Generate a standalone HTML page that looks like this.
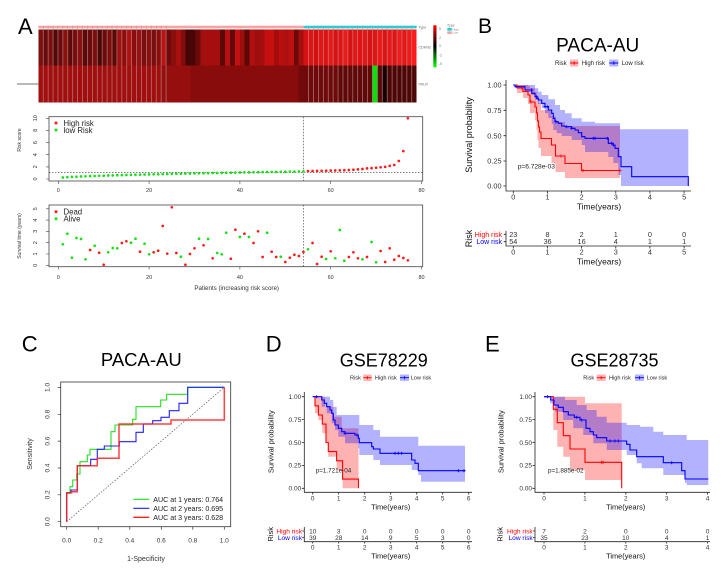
<!DOCTYPE html>
<html><head><meta charset="utf-8"><style>
html,body{margin:0;padding:0;background:#fff;}
svg{display:block;}
text{font-family:"Liberation Sans",sans-serif;}
</style></head><body>
<svg width="722" height="573" viewBox="0 0 722 573" xmlns="http://www.w3.org/2000/svg">
<defs>
<marker id="mr" markerWidth="4" markerHeight="4" refX="2" refY="2" markerUnits="userSpaceOnUse"><circle cx="2" cy="2" r="1.35" fill="#ff1a1a"/></marker>
<marker id="mg" markerWidth="4" markerHeight="4" refX="2" refY="2" markerUnits="userSpaceOnUse"><circle cx="2" cy="2" r="1.35" fill="#16e016"/></marker>
<marker id="pr" markerWidth="4" markerHeight="4" refX="2" refY="2" markerUnits="userSpaceOnUse"><path d="M0.4,2H3.6M2,0.4V3.6" stroke="#ff0000" stroke-width="0.8"/></marker>
<marker id="pb" markerWidth="4" markerHeight="4" refX="2" refY="2" markerUnits="userSpaceOnUse"><path d="M0.4,2H3.6M2,0.4V3.6" stroke="#0000ff" stroke-width="0.8"/></marker>
<linearGradient id="cb" x1="0" y1="0" x2="0" y2="1"><stop offset="0" stop-color="#ff0000"/><stop offset="0.5" stop-color="#000000"/><stop offset="1" stop-color="#00ff00"/></linearGradient>
</defs>

<!-- ================= PANEL A ================= -->
<text x="18" y="34" font-size="22">A</text>
<!-- top annotation bar -->
<rect x="38.3" y="25.7" width="265.4" height="2.6" fill="#f7a3a3"/>
<rect x="303.7" y="25.7" width="113" height="2.6" fill="#1fcfdc"/>
<!-- row 1 -->
<g shape-rendering="crispEdges">
<rect x="38.3" y="29.7" width="5" height="36" fill="#7d0e0e"/>
<rect x="43.21" y="29.7" width="5" height="36" fill="#6a0a0a"/>
<rect x="48.13" y="29.7" width="5" height="36" fill="#7d0e0e"/>
<rect x="53.04" y="29.7" width="5" height="36" fill="#550808"/>
<rect x="57.96" y="29.7" width="5" height="36" fill="#6a0a0a"/>
<rect x="62.87" y="29.7" width="5" height="36" fill="#8a1010"/>
<rect x="67.78" y="29.7" width="5" height="36" fill="#5e0909"/>
<rect x="72.70" y="29.7" width="5" height="36" fill="#7a0c0c"/>
<rect x="77.61" y="29.7" width="5" height="36" fill="#8a0f0f"/>
<rect x="82.53" y="29.7" width="5" height="36" fill="#5a0808"/>
<rect x="87.44" y="29.7" width="5" height="36" fill="#6a0a0a"/>
<rect x="92.35" y="29.7" width="5" height="36" fill="#7d0e0e"/>
<rect x="97.27" y="29.7" width="5" height="36" fill="#4e0707"/>
<rect x="102.18" y="29.7" width="5" height="36" fill="#6a0a0a"/>
<rect x="107.10" y="29.7" width="5" height="36" fill="#7d0e0e"/>
<rect x="112.01" y="29.7" width="5" height="36" fill="#5a0808"/>
<rect x="116.92" y="29.7" width="5" height="36" fill="#a01010"/>
<rect x="121.84" y="29.7" width="5" height="36" fill="#8e0e0e"/>
<rect x="126.75" y="29.7" width="5" height="36" fill="#b01212"/>
<rect x="131.67" y="29.7" width="5" height="36" fill="#8a0e0e"/>
<rect x="136.58" y="29.7" width="5" height="36" fill="#9a0f0f"/>
<rect x="141.49" y="29.7" width="5" height="36" fill="#7d0e0e"/>
<rect x="146.41" y="29.7" width="5" height="36" fill="#8a0f0f"/>
<rect x="151.32" y="29.7" width="5" height="36" fill="#7a0d0d"/>
<rect x="156.24" y="29.7" width="5" height="36" fill="#8a0e0e"/>
<rect x="161.15" y="29.7" width="5" height="36" fill="#bb1212"/>
<rect x="166.06" y="29.7" width="5" height="36" fill="#700b0b"/>
<rect x="170.98" y="29.7" width="5" height="36" fill="#8a0e0e"/>
<rect x="175.89" y="29.7" width="5" height="36" fill="#a81010"/>
<rect x="180.81" y="29.7" width="5" height="36" fill="#800d0d"/>
<rect x="185.72" y="29.7" width="5" height="36" fill="#450505"/>
<rect x="190.63" y="29.7" width="5" height="36" fill="#4a0606"/>
<rect x="195.55" y="29.7" width="5" height="36" fill="#6a0a0a"/>
<rect x="200.46" y="29.7" width="19.8" height="36" fill="#a50e0e"/>
<rect x="220.12" y="29.7" width="5" height="36" fill="#5a0808"/>
<rect x="225.03" y="29.7" width="5" height="36" fill="#b81010"/>
<rect x="229.95" y="29.7" width="5" height="36" fill="#620909"/>
<rect x="234.86" y="29.7" width="5" height="36" fill="#c41010"/>
<rect x="239.77" y="29.7" width="5" height="36" fill="#9a0e0e"/>
<rect x="244.69" y="29.7" width="5" height="36" fill="#5a0808"/>
<rect x="249.60" y="29.7" width="5" height="36" fill="#b01010"/>
<rect x="254.52" y="29.7" width="5" height="36" fill="#a00d0d"/>
<rect x="259.43" y="29.7" width="5" height="36" fill="#a50e0e"/>
<rect x="264.34" y="29.7" width="5" height="36" fill="#c41010"/>
<rect x="269.26" y="29.7" width="5" height="36" fill="#c81010"/>
<rect x="274.17" y="29.7" width="5" height="36" fill="#a50d0d"/>
<rect x="279.09" y="29.7" width="5" height="36" fill="#b80f0f"/>
<rect x="284.00" y="29.7" width="5" height="36" fill="#b00f0f"/>
<rect x="288.91" y="29.7" width="5" height="36" fill="#bd1010"/>
<rect x="293.83" y="29.7" width="5" height="36" fill="#6a0a0a"/>
<rect x="298.74" y="29.7" width="5" height="36" fill="#a50f0f"/>
<rect x="303.66" y="29.7" width="5" height="36" fill="#d81212"/>
<rect x="308.57" y="29.7" width="5" height="36" fill="#e01414"/>
<rect x="313.48" y="29.7" width="5" height="36" fill="#d41111"/>
<rect x="318.40" y="29.7" width="5" height="36" fill="#e31515"/>
<rect x="323.31" y="29.7" width="5" height="36" fill="#dc1313"/>
<rect x="328.23" y="29.7" width="5" height="36" fill="#e81818"/>
<rect x="333.14" y="29.7" width="5" height="36" fill="#d61212"/>
<rect x="338.05" y="29.7" width="5" height="36" fill="#e01414"/>
<rect x="342.97" y="29.7" width="5" height="36" fill="#ea1a1a"/>
<rect x="347.88" y="29.7" width="5" height="36" fill="#d81212"/>
<rect x="352.80" y="29.7" width="5" height="36" fill="#e41616"/>
<rect x="357.71" y="29.7" width="5" height="36" fill="#de1414"/>
<rect x="362.62" y="29.7" width="5" height="36" fill="#e61717"/>
<rect x="367.54" y="29.7" width="5" height="36" fill="#d91313"/>
<rect x="372.45" y="29.7" width="5" height="36" fill="#e11515"/>
<rect x="377.37" y="29.7" width="5" height="36" fill="#eb1a1a"/>
<rect x="382.28" y="29.7" width="5" height="36" fill="#dc1313"/>
<rect x="387.19" y="29.7" width="5" height="36" fill="#e61818"/>
<rect x="392.11" y="29.7" width="5" height="36" fill="#e01414"/>
<rect x="397.02" y="29.7" width="5" height="36" fill="#ee1c1c"/>
<rect x="401.94" y="29.7" width="5" height="36" fill="#e41616"/>
<rect x="406.85" y="29.7" width="5" height="36" fill="#f01c1c"/>
<rect x="411.76" y="29.7" width="4.92" height="36" fill="#ff1a1a"/>
<!-- row 2 -->
<rect x="38.3" y="65.7" width="122.9" height="36.6" fill="#a30f0f"/>
<rect x="161.15" y="65.7" width="29.5" height="36.6" fill="#970e0e"/>
<rect x="190.63" y="65.7" width="108.2" height="36.6" fill="#880c0c"/>
<rect x="298.74" y="65.7" width="39.4" height="36.6" fill="#700a0a"/>
<rect x="338.05" y="65.7" width="34.5" height="36.6" fill="#610909"/>
<rect x="372.45" y="65.7" width="4.95" height="36.6" fill="#00e600"/>
<rect x="377.37" y="65.7" width="4.95" height="36.6" fill="#5a0808"/>
<rect x="382.28" y="65.7" width="4.95" height="36.6" fill="#160202"/>
<rect x="387.19" y="65.7" width="29.5" height="36.6" fill="#4d0707"/>
</g>
<!-- cell separators -->
<path d="M43.21,25.7V102.3M48.13,25.7V102.3M53.04,25.7V102.3M57.96,25.7V102.3M62.87,25.7V102.3M67.78,25.7V102.3M72.70,25.7V102.3M77.61,25.7V102.3M82.53,25.7V102.3M87.44,25.7V102.3M92.35,25.7V102.3M97.27,25.7V102.3M102.18,25.7V102.3M107.10,25.7V102.3M112.01,25.7V102.3M116.92,25.7V102.3M121.84,25.7V102.3M126.75,25.7V102.3M131.67,25.7V102.3M136.58,25.7V102.3M141.49,25.7V102.3M146.41,25.7V102.3M151.32,25.7V102.3M156.24,25.7V102.3M161.15,25.7V102.3M166.06,25.7V102.3M308.57,25.7V102.3M313.48,25.7V102.3M318.40,25.7V102.3M323.31,25.7V102.3M328.23,25.7V102.3M333.14,25.7V102.3M338.05,25.7V102.3M342.97,25.7V102.3M347.88,25.7V102.3M352.80,25.7V102.3M357.71,25.7V102.3M362.62,25.7V102.3M367.54,25.7V102.3M372.45,25.7V102.3M377.37,25.7V102.3M382.28,25.7V102.3M387.19,25.7V102.3M392.11,25.7V102.3M397.02,25.7V102.3M401.94,25.7V102.3M406.85,25.7V102.3M411.76,25.7V102.3" stroke="#b89a9a" stroke-width="0.7" fill="none" opacity="0.8"/>
<line x1="17" y1="84" x2="38.3" y2="84" stroke="#444" stroke-width="0.7"/>
<text x="418.5" y="28.5" font-size="3.6" fill="#666">Type</text>
<text x="418.5" y="48.5" font-size="3.6" fill="#666">CDKN3</text>
<text x="418.5" y="85.5" font-size="3.6" fill="#666">PKLR</text>
<rect x="433.3" y="25.3" width="3.2" height="42" fill="url(#cb)"/>
<text x="439" y="30" font-size="3.5" fill="#777">5</text>
<text x="439" y="39" font-size="3.5" fill="#777">2</text>
<text x="439" y="47" font-size="3.5" fill="#777">0</text>
<text x="439" y="56.5" font-size="3.5" fill="#777">-2</text>
<text x="439" y="65" font-size="3.5" fill="#777">-5</text>
<text x="447" y="26.5" font-size="3.5" fill="#777">Type</text>
<rect x="447.3" y="28" width="4.4" height="2.7" fill="#1fcfdc"/>
<rect x="447.3" y="31.3" width="4.4" height="2.7" fill="#f7a3a3"/>
<text x="452.5" y="30.3" font-size="3" fill="#888">High</text>
<text x="452.5" y="33.6" font-size="3" fill="#888">Low</text>

<!-- risk score plot -->
<rect x="49" y="116.7" width="373.7" height="64.3" fill="none" stroke="#444" stroke-width="0.8"/>
<line x1="49" y1="172.3" x2="422.7" y2="172.3" stroke="#333" stroke-width="0.6" stroke-dasharray="1.5,1.5"/>
<line x1="303.3" y1="116.7" x2="303.3" y2="181" stroke="#333" stroke-width="0.6" stroke-dasharray="1.5,1.5"/>
<path d="M58.3,181V184M149.1,181V184M239.9,181V184M330.7,181V184M421.5,181V184M46,179H49M46,166.9H49M46,154.7H49M46,142.6H49M46,130.4H49M46,118.3H49" stroke="#444" stroke-width="0.6"/>
<g font-size="5.5" fill="#333" text-anchor="middle">
<text x="58.3" y="192">0</text><text x="149.1" y="192">20</text><text x="239.9" y="192">40</text><text x="330.7" y="192">60</text><text x="421.5" y="192">80</text>
<text transform="rotate(-90 37 179)" x="37" y="179">0</text>
<text transform="rotate(-90 37 166.9)" x="37" y="166.9">2</text>
<text transform="rotate(-90 37 154.7)" x="37" y="154.7">4</text>
<text transform="rotate(-90 37 142.6)" x="37" y="142.6">6</text>
<text transform="rotate(-90 37 130.4)" x="37" y="130.4">8</text>
<text transform="rotate(-90 37 118.3)" x="37" y="118.3">10</text>
<text transform="rotate(-90 21 140)" x="21" y="140" font-size="5">Risk score</text>
</g>
<polyline fill="none" stroke="none" marker-start="url(#mg)" marker-mid="url(#mg)" marker-end="url(#mg)" points="62.84,177.5 67.38,177.2 71.92,176.9 76.46,176.7 81,176.5 85.54,176.3 90.08,176.1 94.62,176 99.16,175.8 103.7,175.7 108.24,175.5 112.78,175.4 117.32,175.25 121.86,175.1 126.4,175 130.94,174.9 135.48,174.75 140.02,174.65 144.56,174.5 149.1,174.4 153.64,174.3 158.18,174.2 162.72,174.1 167.26,174 171.8,173.9 176.34,173.8 180.88,173.7 185.42,173.6 189.96,173.5 194.5,173.4 199.04,173.3 203.58,173.2 208.12,173.1 212.66,173 217.2,172.95 221.74,172.85 226.28,172.75 230.82,172.7 235.36,172.6 239.9,172.5 244.44,172.4 248.98,172.35 253.52,172.25 258.06,172.2 262.6,172.1 267.14,172 271.68,171.95 276.22,171.9 280.76,171.8 285.3,171.7 289.84,171.65 294.38,171.55 298.92,171.5 303.46,171.4"/>
<polyline fill="none" stroke="none" marker-start="url(#mr)" marker-mid="url(#mr)" marker-end="url(#mr)" points="308,171.1 312.54,171 317.08,170.9 321.62,170.8 326.16,170.7 330.7,170.6 335.24,170.5 339.78,170.4 344.32,170.2 348.86,170 353.4,169.7 357.94,169.4 362.48,169 367.02,168.4 371.56,168.1 376.1,167.7 380.64,167.3 385.18,166.9 389.72,165.9 394.26,165 398.8,161 403.34,151.1 407.88,118.3"/>
<circle cx="56" cy="123" r="1.5" fill="#ff1a1a"/><circle cx="56" cy="130" r="1.5" fill="#16e016"/>
<text x="63.5" y="125.8" font-size="7.8" fill="#222">High risk</text>
<text x="63.5" y="132.8" font-size="7.8" fill="#222">low Risk</text>

<!-- survival time plot -->
<rect x="49" y="205" width="373.7" height="61.7" fill="none" stroke="#444" stroke-width="0.8"/>
<line x1="303.3" y1="205" x2="303.3" y2="266.7" stroke="#333" stroke-width="0.6" stroke-dasharray="1.5,1.5"/>
<path d="M58.3,266.7V269.5M149.1,266.7V269.5M239.9,266.7V269.5M330.7,266.7V269.5M421.5,266.7V269.5M46,265.3H49M46,254H49M46,242.7H49M46,231.4H49M46,220.1H49M46,208.8H49" stroke="#444" stroke-width="0.6"/>
<g font-size="5.5" fill="#333" text-anchor="middle">
<text x="58.3" y="278.8">0</text><text x="149.1" y="278.8">20</text><text x="239.9" y="278.8">40</text><text x="330.7" y="278.8">60</text><text x="421.5" y="278.8">80</text>
<text transform="rotate(-90 37 265.3)" x="37" y="265.3">0</text>
<text transform="rotate(-90 37 254)" x="37" y="254">1</text>
<text transform="rotate(-90 37 242.7)" x="37" y="242.7">2</text>
<text transform="rotate(-90 37 231.4)" x="37" y="231.4">3</text>
<text transform="rotate(-90 37 220.1)" x="37" y="220.1">4</text>
<text transform="rotate(-90 37 208.8)" x="37" y="208.8">5</text>
<text transform="rotate(-90 21 236)" x="21" y="236" font-size="5">Survival time (years)</text>
<text x="236.7" y="290.2" font-size="6.2">Patients (increasing risk score)</text>
</g>
<polyline fill="none" stroke="none" marker-start="url(#mg)" marker-mid="url(#mg)" marker-end="url(#mg)" points="62.84,244.3 67.38,233.7 71.92,257.7 76.46,238 81,239 85.54,259.3 94.62,245.7 108.24,252.3 112.78,248 117.32,248.3 130.94,242.7 135.48,238.7 144.56,243.7 149.1,254.3 180.88,256.7 199.04,238.7 208.12,239 217.2,253 221.74,254.3 226.28,232.7 239.9,237 248.98,237 267.14,232.7 280.76,256.7 308,249.3 326.16,259 335.24,258.3 339.78,230 344.32,260.7 362.48,259.3 371.56,242 376.1,262.3"/>
<polyline fill="none" stroke="none" marker-start="url(#mr)" marker-mid="url(#mr)" marker-end="url(#mr)" points="90.08,250 99.16,252.7 103.7,264.7 121.86,243 126.4,241.3 140.02,251.7 153.64,252.3 158.18,250.7 162.72,226 167.26,253.7 171.8,207.3 176.34,253 185.42,264.7 189.96,254 194.5,248.3 203.58,245.3 212.66,258.3 230.82,258.7 235.36,229.7 244.44,233.7 253.52,243 258.06,231.3 262.6,257 271.68,251.7 276.22,257 285.3,262 289.84,257.7 294.38,254.7 298.92,256 303.46,252 312.54,243 317.08,264 321.62,256.7 330.7,251.3 348.86,257 353.4,252.3 357.94,258.3 367.02,257 380.64,251 385.18,262 389.72,248.3 394.26,259.7 398.8,256 403.34,258 407.88,260.3"/>
<circle cx="56" cy="211.7" r="1.5" fill="#ff1a1a"/><circle cx="56" cy="218.7" r="1.5" fill="#16e016"/>
<text x="63.5" y="214.5" font-size="7.8" fill="#222">Dead</text>
<text x="63.5" y="221.5" font-size="7.8" fill="#222">Alive</text>

<!-- ================= PANEL B ================= -->
<text x="478" y="33" font-size="21">B</text>
<text x="597.7" y="51.7" font-size="19" text-anchor="middle">PACA-AU</text>
<text x="555" y="65.2" font-size="6" fill="#222">Risk</text>
<rect x="570" y="59.5" width="8.3" height="7" fill="#ffb3b3"/><path d="M570,63H578.3M574.15,61.3V64.7" stroke="#f00" stroke-width="0.9"/>
<text x="581.7" y="65.2" font-size="6" fill="#222">High risk</text>
<rect x="609.3" y="59.5" width="9" height="7" fill="#b3b3ff"/><path d="M609.3,63H618.3M613.8,61.3V64.7" stroke="#00f" stroke-width="0.9"/>
<text x="621.7" y="65.2" font-size="6" fill="#222">Low risk</text>

<path d="M513.3,85 H528 V86 H530 V88 H535 V92 H537 V97 H539 V103 H541 V110 H551.5 V116 H555.5 V122 H565 V126 H620 V178 H565 V172 H555.5 V163 H551.5 V156 H541 V148 H538.5 V140 H537.5 V130 H536.5 V120 H535 V113 H530 V104 H528 V98 H523 V93 H517 V85 Z" fill="#ff0000" fill-opacity="0.3"/>
<path d="M513.3,85 H535 V88.3 H538.3 V91.7 H541.7 V95 H548.3 V99.3 H555 V105 H560 V110 H565 V113.3 H571.7 V118.3 H581.7 V121.7 H595 V123.3 H620 V129.3 H688.3 V186 H621 V175 H618.3 V163 H613.3 V157 H608.3 V152 H585 V145 H581.7 V140 H571.7 V136 H561.7 V133.3 H556.7 V130 H553.3 V124 H551.7 V118 H548.3 V113.3 H545 V108.3 H541.7 V104 H538 V100 H535 V95 H531.7 V92 H525 V88 H515 V85 Z" fill="#0000ff" fill-opacity="0.3"/>
<path d="M513.3,85 H517 V88 H523 V91.5 H528 V95 H530 V102 H535 V107 H536.5 V113 H537.5 V121 H538.5 V127 H539.5 V132 H541 V138.5 H551.5 V145 H555.5 V156 H565 V163.5 H581.5 V170.5 H620" fill="none" stroke="#ff0000" stroke-width="1.1"/>
<path d="M513.3,85 H515 V86.7 H525 V90 H531.7 V93.3 H535 V96.7 H536.7 V98.3 H538.3 V100 H541.7 V103.3 H545 V106.7 H548.3 V110 H551.7 V113.3 H553.3 V118.3 H555 V121.7 H558.3 V123.3 H561.7 V126 H565 V126.7 H571.7 V128.3 H575 V130 H578.3 V132.7 H581.7 V136.7 H585 V138.3 H608.3 V143.3 H613.3 V145 H615 V148.3 H618.3 V156.7 H621 V166.7 H631.7 V176.7 H688.3 V186" fill="none" stroke="#0000ff" stroke-width="1.1"/>
<polyline fill="none" stroke="none" marker-start="url(#pr)" marker-mid="url(#pr)" marker-end="url(#pr)" points="522,88 531,102 561,156 583,170.5 620,170.5"/>
<polyline fill="none" stroke="none" marker-start="url(#pb)" marker-mid="url(#pb)" marker-end="url(#pb)" points="531.7,90 536.7,96.7 545,106.7 547.7,106.7 556,121.7 566.7,126.7 571.7,128.3 593.3,138.3 595,138.3 607.3,138.3 611.7,143.3 613.3,145"/>
<path d="M506,80V191H691M503.5,85H506M503.5,110.3H506M503.5,135.7H506M503.5,161H506M503.5,186H506M513.3,191V193.5M547.5,191V193.5M581.6,191V193.5M615.8,191V193.5M649.9,191V193.5M684.1,191V193.5" fill="none" stroke="#222" stroke-width="0.8"/>
<g font-size="7.3" fill="#333" text-anchor="end">
<text x="501.5" y="87.6">1.00</text><text x="501.5" y="112.9">0.75</text><text x="501.5" y="138.3">0.50</text><text x="501.5" y="163.6">0.25</text><text x="501.5" y="188.6">0.00</text>
</g>
<g font-size="7.3" fill="#333" text-anchor="middle">
<text x="513.3" y="199.6">0</text><text x="547.5" y="199.6">1</text><text x="581.6" y="199.6">2</text><text x="615.8" y="199.6">3</text><text x="649.9" y="199.6">4</text><text x="684.1" y="199.6">5</text>
</g>
<text x="599" y="209.7" font-size="8.4" text-anchor="middle" fill="#111">Time(years)</text>
<text transform="rotate(-90 472 135)" x="472" y="135" font-size="9" text-anchor="middle" fill="#111">Survival probability</text>
<text x="517.7" y="168.3" font-size="6.6" fill="#222">p=6.728e-03</text>
<!-- table B -->
<text transform="rotate(-90 472.2 238.5)" x="472.2" y="238.5" font-size="9" text-anchor="middle" fill="#111">Risk</text>
<text x="502" y="236.8" font-size="7" text-anchor="end" fill="#ff0000">High risk</text>
<text x="502" y="244.2" font-size="7" text-anchor="end" fill="#0000ff">Low risk</text>
<path d="M506,231V246H691M503.8,234.3H506M503.8,241.7H506M513.3,246V248.5M547.5,246V248.5M581.6,246V248.5M615.8,246V248.5M649.9,246V248.5M684.1,246V248.5" fill="none" stroke="#222" stroke-width="0.8"/>
<g font-size="7.3" fill="#333" text-anchor="middle">
<text x="513.3" y="236.8">23</text><text x="547.5" y="236.8">8</text><text x="581.6" y="236.8">2</text><text x="615.8" y="236.8">1</text><text x="649.9" y="236.8">0</text><text x="684.1" y="236.8">0</text>
<text x="513.3" y="244.2">54</text><text x="547.5" y="244.2">36</text><text x="581.6" y="244.2">16</text><text x="615.8" y="244.2">4</text><text x="649.9" y="244.2">1</text><text x="684.1" y="244.2">1</text>
<text x="513.3" y="254.5">0</text><text x="547.5" y="254.5">1</text><text x="581.6" y="254.5">2</text><text x="615.8" y="254.5">3</text><text x="649.9" y="254.5">4</text><text x="684.1" y="254.5">5</text>
</g>
<text x="599" y="264.7" font-size="8.4" text-anchor="middle" fill="#111">Time(years)</text>

<!-- ================= PANEL C ================= -->
<text x="21.7" y="351.7" font-size="22">C</text>
<text x="141.3" y="366" font-size="18.5" text-anchor="middle">PACA-AU</text>
<rect x="60.7" y="382" width="170" height="144.7" fill="none" stroke="#333" stroke-width="0.8"/>
<path d="M66.7,526.7V529.7M98.2,526.7V529.7M129.8,526.7V529.7M161.3,526.7V529.7M192.8,526.7V529.7M224.3,526.7V529.7M57.7,521.7H60.7M57.7,494.8H60.7M57.7,468H60.7M57.7,441.1H60.7M57.7,414.3H60.7M57.7,387.4H60.7" stroke="#333" stroke-width="0.7"/>
<g font-size="6.5" fill="#333" text-anchor="middle">
<text x="66.7" y="542.5">0.0</text><text x="98.2" y="542.5">0.2</text><text x="129.8" y="542.5">0.4</text><text x="161.3" y="542.5">0.6</text><text x="192.8" y="542.5">0.8</text><text x="224.3" y="542.5">1.0</text>
<text transform="rotate(-90 49.6 521.7)" x="49.6" y="521.7">0.0</text>
<text transform="rotate(-90 49.6 494.8)" x="49.6" y="494.8">0.2</text>
<text transform="rotate(-90 49.6 468)" x="49.6" y="468">0.4</text>
<text transform="rotate(-90 49.6 441.1)" x="49.6" y="441.1">0.6</text>
<text transform="rotate(-90 49.6 414.3)" x="49.6" y="414.3">0.8</text>
<text transform="rotate(-90 49.6 387.4)" x="49.6" y="387.4">1.0</text>
<text transform="rotate(-90 31.8 454)" x="31.8" y="454" font-size="7">Sensitivity</text>
<text x="146" y="560.8" font-size="7">1-Specificity</text>
</g>
<line x1="66.7" y1="521.7" x2="224.3" y2="387.3" stroke="#555" stroke-width="0.7" stroke-dasharray="1.5,1.5"/>
<path d="M66.7,521.7 V493.3 H70 V486.7 H72.7 V480 H76.7 V474 H80 V461.7 H87.3 V455 H90 V449.3 H111 V431.7 H115 V425 H132.7 V419.3 H136 V406.7 H160.7 V400 H166.7 V394.3 H187.7 V387.3 H224.3" fill="none" stroke="#22e022" stroke-width="1.1"/>
<path d="M66.7,521.7 V492.7 H71 V490 H77.3 V465.7 H90.7 V459.3 H97.3 V449.3 H104.3 V446 H119.3 V441.7 H136 V432.3 H143.3 V424 H152.7 V420.7 H161 V417.3 H169.3 V410.7 H179 V403.3 H187.7 V387.3 H224.3" fill="none" stroke="#2020ff" stroke-width="1.1"/>
<path d="M66.7,521.7 V492.7 H71.7 V491.7 H77.3 V465.7 H97.3 V458.3 H119 V424 H171 V420 H224.3 V387.3" fill="none" stroke="#ff2020" stroke-width="1.5" stroke-opacity="0.85"/>
<path d="M133.3,499.3H149.3" stroke="#22e022" stroke-width="1.1"/>
<path d="M133.3,508.3H149.3" stroke="#2020ff" stroke-width="1.1"/>
<path d="M133.3,517.3H149.3" stroke="#ff2020" stroke-width="1.3"/>
<g font-size="7.1" fill="#222">
<text x="153.3" y="501.8">AUC at 1 years: 0.764</text>
<text x="153.3" y="510.8">AUC at 2 years: 0.695</text>
<text x="153.3" y="519.8">AUC at 3 years: 0.628</text>
</g>

<!-- ================= PANEL D ================= -->
<text x="265.7" y="351.7" font-size="22">D</text>
<text x="383.8" y="366.7" font-size="18" text-anchor="middle">GSE78229</text>
<text x="350" y="379.7" font-size="5.6" fill="#222">Risk</text>
<rect x="363.3" y="374.5" width="8.4" height="6.4" fill="#ffb3b3"/><path d="M363.3,377.7H371.7M367.5,376.2V379.2" stroke="#f00" stroke-width="0.9"/>
<text x="375" y="379.7" font-size="5.6" fill="#222">High risk</text>
<rect x="400" y="374.5" width="9" height="6.4" fill="#b3b3ff"/><path d="M400,377.7H409M404.5,376.2V379.2" stroke="#00f" stroke-width="0.9"/>
<text x="410.7" y="379.7" font-size="5.6" fill="#222">Low risk</text>

<path d="M312.7,396.6 H325 V406.7 H333.3 V416.7 H341.7 V428.3 H358.5 V488.3 H342.6 V470 H336.6 V456.7 H328.3 V443.3 H326 V433.3 H322.3 V420 H318.4 V413.3 H315 V396.6 Z" fill="#ff0000" fill-opacity="0.3"/>
<path d="M312.7,396.7 H330 V400 H333.3 V406.7 H336.7 V415 H359.3 V425 H373.3 V430 H380 V436.7 H418.3 V445.7 H465 V481.7 H421 V475 H418.3 V470 H411.7 V465 H380 V460 H373.3 V455 H359.3 V448.3 H358.3 V443.3 H345 V436.7 H338.3 V430 H335 V423.3 H331.7 V413.3 H326.7 V406.7 H321.7 V396.7 Z" fill="#0000ff" fill-opacity="0.3"/>
<path d="M312.7,396.6 H315 V405.8 H318.4 V415 H322.3 V424.1 H326 V442.5 H328.3 V451.6 H336.6 V460.8 H342.6 V479.1 H358.5 V488.3" fill="none" stroke="#ff0000" stroke-width="1.1"/>
<path d="M312.7,396.7 H321.7 V400 H324.3 V403.3 H326.7 V406.7 H330 V410 H331.7 V413.3 H333.3 V420 H335 V425 H338.3 V428.3 H341.7 V431.7 H345 V433.3 H355 V435 H358.3 V438.3 H359.3 V442.7 H371.7 V446.7 H373.3 V449 H380 V453.3 H411.7 V460 H415 V463.3 H418.3 V470.7 H465" fill="none" stroke="#0000ff" stroke-width="1.1"/>
<polyline fill="none" stroke="none" marker-start="url(#pb)" marker-mid="url(#pb)" marker-end="url(#pb)" points="316.7,396.7 345,433.3 357,435 395,453.3 398.3,453.3 401.7,453.3 458.3,470.7 464,470.7"/>
<path d="M304.3,392V492.3H472M301.8,396.7H304.3M301.8,419.6H304.3M301.8,442.5H304.3M301.8,465.4H304.3M301.8,488.3H304.3M312.7,492.3V494.5M338.7,492.3V494.5M364.7,492.3V494.5M390.7,492.3V494.5M416.7,492.3V494.5M442.7,492.3V494.5M468.7,492.3V494.5" fill="none" stroke="#222" stroke-width="0.8"/>
<g font-size="6.5" fill="#333" text-anchor="end">
<text x="301.2" y="399">1.00</text><text x="301.2" y="421.9">0.75</text><text x="301.2" y="444.8">0.50</text><text x="301.2" y="467.7">0.25</text><text x="301.2" y="490.6">0.00</text>
</g>
<g font-size="6.5" fill="#333" text-anchor="middle">
<text x="312.7" y="500.3">0</text><text x="338.7" y="500.3">1</text><text x="364.7" y="500.3">2</text><text x="390.7" y="500.3">3</text><text x="416.7" y="500.3">4</text><text x="442.7" y="500.3">5</text><text x="468.7" y="500.3">6</text>
</g>
<text x="390.7" y="509.4" font-size="7.4" text-anchor="middle" fill="#111">Time(years)</text>
<text transform="rotate(-90 273.7 441.7)" x="273.7" y="441.7" font-size="7.5" text-anchor="middle" fill="#111">Survival probability</text>
<text x="315.7" y="472.3" font-size="6.3" fill="#222">p=1.721e-04</text>
<text transform="rotate(-90 273.2 534.3)" x="273.2" y="534.3" font-size="7.5" text-anchor="middle" fill="#111">Risk</text>
<text x="302" y="533.3" font-size="6.6" text-anchor="end" fill="#ff0000">High risk</text>
<text x="302" y="540" font-size="6.6" text-anchor="end" fill="#0000ff">Low risk</text>
<path d="M304.3,527V541.7H472M302.3,531H304.3M302.3,537.7H304.3M312.7,541.7V543.5M338.7,541.7V543.5M364.7,541.7V543.5M390.7,541.7V543.5M416.7,541.7V543.5M442.7,541.7V543.5M468.7,541.7V543.5" fill="none" stroke="#222" stroke-width="0.8"/>
<g font-size="6.5" fill="#333" text-anchor="middle">
<text x="312.7" y="533.3">10</text><text x="338.7" y="533.3">3</text><text x="364.7" y="533.3">0</text><text x="390.7" y="533.3">0</text><text x="416.7" y="533.3">0</text><text x="442.7" y="533.3">0</text><text x="468.7" y="533.3">0</text>
<text x="312.7" y="540">39</text><text x="338.7" y="540">28</text><text x="364.7" y="540">14</text><text x="390.7" y="540">9</text><text x="416.7" y="540">5</text><text x="442.7" y="540">3</text><text x="468.7" y="540">0</text>
<text x="312.7" y="549.5">0</text><text x="338.7" y="549.5">1</text><text x="364.7" y="549.5">2</text><text x="390.7" y="549.5">3</text><text x="416.7" y="549.5">4</text><text x="442.7" y="549.5">5</text><text x="468.7" y="549.5">6</text>
</g>
<text x="390.7" y="558.5" font-size="7.4" text-anchor="middle" fill="#111">Time(years)</text>

<!-- ================= PANEL E ================= -->
<text x="485" y="351.7" font-size="22">E</text>
<text x="614.5" y="366.7" font-size="18" text-anchor="middle">GSE28735</text>
<text x="583.3" y="379.7" font-size="5.6" fill="#222">Risk</text>
<rect x="596.7" y="374.5" width="9" height="6.4" fill="#ffb3b3"/><path d="M596.7,377.7H605.7M601.2,376.2V379.2" stroke="#f00" stroke-width="0.9"/>
<text x="609" y="379.7" font-size="5.6" fill="#222">High risk</text>
<rect x="635" y="374.5" width="9" height="6.4" fill="#b3b3ff"/><path d="M635,377.7H644M639.5,376.2V379.2" stroke="#00f" stroke-width="0.9"/>
<text x="646.7" y="379.7" font-size="5.6" fill="#222">Low risk</text>

<path d="M544,396.7 H585 V403.3 H621.7 V480 H585 V470 H570 V456.7 H563.3 V446.7 H557.3 V430 H553.3 V396.7 Z" fill="#ff0000" fill-opacity="0.3"/>
<path d="M544,396.7 H565 V400 H576.7 V405 H586.7 V410 H596.7 V416.7 H606.7 V422.7 H626.7 V425 H640 V426.7 H653.3 V431.7 H663.3 V435 H686.7 V440 H708.3 V485 H686.7 V482.7 H685 V475 H663.3 V468.3 H641.7 V463.3 H636.7 V455 H626.7 V450 H606.7 V443.3 H593.3 V435 H583.3 V428.3 H573.3 V420 H563.3 V411.7 H555 V403.3 H550 V396.7 Z" fill="#0000ff" fill-opacity="0.3"/>
<path d="M544,396.7 H553.3 V409.3 H557.3 V422.7 H563.3 V435.7 H570 V449 H585 V462.3 H621.7 V488.3" fill="none" stroke="#ff0000" stroke-width="1.1"/>
<path d="M544,396.7 H550.7 V400 H554 V405 H558.3 V407.3 H563.3 V411.7 H568.3 V415 H574.3 V417.3 H580 V420 H586 V428.3 H590 V431.7 H593.3 V435 H596.7 V437.7 H606.7 V441 H626.7 V444.3 H630 V450 H636.7 V456.7 H663.3 V462.7 H681.7 V470.7 H685 V479 H708.3" fill="none" stroke="#0000ff" stroke-width="1.1"/>
<polyline fill="none" stroke="none" marker-start="url(#pr)" marker-mid="url(#pr)" marker-end="url(#pr)" points="601.7,462.3 603,462.3"/>
<polyline fill="none" stroke="none" marker-start="url(#pb)" marker-mid="url(#pb)" marker-end="url(#pb)" points="547.7,396.7 576.7,417.3 581.7,420 610,441 615,441 618.3,441 671.7,462.7"/>
<path d="M535,392V492.3H710M532.5,396.7H535M532.5,419.6H535M532.5,442.5H535M532.5,465.4H535M532.5,488.3H535M544,492.3V494.5M584.9,492.3V494.5M625.8,492.3V494.5M666.7,492.3V494.5M707.6,492.3V494.5" fill="none" stroke="#222" stroke-width="0.8"/>
<g font-size="6.5" fill="#333" text-anchor="end">
<text x="532" y="399">1.00</text><text x="532" y="421.9">0.75</text><text x="532" y="444.8">0.50</text><text x="532" y="467.7">0.25</text><text x="532" y="490.6">0.00</text>
</g>
<g font-size="6.5" fill="#333" text-anchor="middle">
<text x="544" y="500.3">0</text><text x="584.9" y="500.3">1</text><text x="625.8" y="500.3">2</text><text x="666.7" y="500.3">3</text><text x="707.6" y="500.3">4</text>
</g>
<text x="625.7" y="509.4" font-size="7.4" text-anchor="middle" fill="#111">Time(years)</text>
<text transform="rotate(-90 503.4 441.7)" x="503.4" y="441.7" font-size="7.5" text-anchor="middle" fill="#111">Survival probability</text>
<text x="548" y="472.3" font-size="6.3" fill="#222">p=1.885e-02</text>
<text transform="rotate(-90 502.7 534.3)" x="502.7" y="534.3" font-size="7.5" text-anchor="middle" fill="#111">Risk</text>
<text x="532.7" y="533.3" font-size="6.6" text-anchor="end" fill="#ff0000">High risk</text>
<text x="532.7" y="540" font-size="6.6" text-anchor="end" fill="#0000ff">Low risk</text>
<path d="M535,527V541.7H710M533,531H535M533,537.7H535M544,541.7V543.5M584.9,541.7V543.5M625.8,541.7V543.5M666.7,541.7V543.5M707.6,541.7V543.5" fill="none" stroke="#222" stroke-width="0.8"/>
<g font-size="6.5" fill="#333" text-anchor="middle">
<text x="544" y="533.3">7</text><text x="584.9" y="533.3">2</text><text x="625.8" y="533.3">0</text><text x="666.7" y="533.3">0</text><text x="707.6" y="533.3">0</text>
<text x="544" y="540">35</text><text x="584.9" y="540">23</text><text x="625.8" y="540">10</text><text x="666.7" y="540">4</text><text x="707.6" y="540">1</text>
<text x="544" y="549.5">0</text><text x="584.9" y="549.5">1</text><text x="625.8" y="549.5">2</text><text x="666.7" y="549.5">3</text><text x="707.6" y="549.5">4</text>
</g>
<text x="625.7" y="558.5" font-size="7.4" text-anchor="middle" fill="#111">Time(years)</text>
</svg>
</body></html>
